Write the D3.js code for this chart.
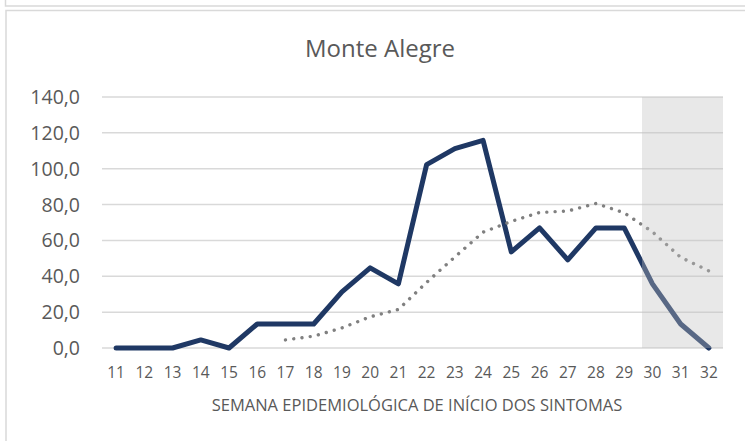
<!DOCTYPE html>
<html>
<head>
<meta charset="utf-8">
<script src="https://cdn.jsdelivr.net/npm/d3@7"></script>
<style>
  html, body { margin: 0; padding: 0; background: #fff; }
  svg { display: block; font-family: "Open Sans", "Noto Sans", sans-serif; }
</style>
</head>
<body>
<svg id="chart" width="745" height="441"></svg>
<script>
// ---- data ----
const weeks = [11,12,13,14,15,16,17,18,19,20,21,22,23,24,25,26,27,28,29,30,31,32];
const incidence = [0,0,0,4.5,0,13.4,13.4,13.4,31.3,44.7,35.8,102.3,111.2,115.8,53.6,67.0,49.2,67.0,67.0,35.8,13.4,0];
const movingAvg = [null,null,null,null,null,null,4.5,6.6,11.2,17.4,21.5,36.6,50.8,64.6,70.6,75.6,76.4,80.6,75.4,64.8,50.6,43.0];
const shadedWeeks = [30,31,32];
const yTicks = [0,20,40,60,80,100,120,140];
const title = "Monte Alegre";
const xTitle = "SEMANA EPIDEMIOLÓGICA DE INÍCIO DOS SINTOMAS";

const svg = d3.select("#chart");
const plot = {left: 102, right: 723, top: 97, bottom: 348};
const textColor = "#595959";

// frame boxes
svg.append("rect").attr("x", 5.5).attr("y", -20).attr("width", 800).attr("height", 26)
  .attr("fill", "none").attr("stroke", "#d9d9d9").attr("stroke-width", 1.5);
svg.append("rect").attr("x", 6).attr("y", 10.5).attr("width", 800).attr("height", 500)
  .attr("fill", "#fff").attr("stroke", "#d9d9d9").attr("stroke-width", 1.5);

const x = d3.scaleBand().domain(weeks).range([plot.left, plot.right]).paddingInner(0).paddingOuter(0);
const cx = d => x(d) + x.bandwidth() / 2;
const y = d3.scaleLinear().domain([0, 140]).range([plot.bottom, plot.top]);

// gridlines
svg.append("g").selectAll("line").data(yTicks).join("line")
  .attr("x1", plot.left).attr("x2", plot.right)
  .attr("y1", d => y(d)).attr("y2", d => y(d))
  .attr("stroke", "#d9d9d9").attr("stroke-width", 1.5);

// y labels
const fmt = d => d3.format(".1f")(d).replace(".", ",");
svg.append("g").selectAll("text").data(yTicks).join("text")
  .attr("x", 80).attr("y", d => y(d)).attr("dy", "0.36em")
  .attr("text-anchor", "end").attr("fill", textColor)
  .attr("font-size", 19.5).text(fmt);

// x labels
svg.append("g").selectAll("text").data(weeks).join("text")
  .attr("x", d => cx(d)).attr("y", 378)
  .attr("text-anchor", "middle").attr("fill", textColor)
  .attr("font-size", 15.5).text(d => d);

// axis title
svg.append("text").attr("x", 417).attr("y", 411).attr("text-anchor", "middle")
  .attr("fill", textColor).attr("font-size", 16.5).text(xTitle);

// chart title
svg.append("text").attr("x", 380).attr("y", 57).attr("text-anchor", "middle")
  .attr("fill", textColor).attr("font-size", 24).text(title);

// main line
const lineData = weeks.map((w, i) => ({w, v: incidence[i]}));
svg.append("path").datum(lineData)
  .attr("d", d3.line().x(d => cx(d.w)).y(d => y(d.v)))
  .attr("fill", "none").attr("stroke", "#1f3864").attr("stroke-width", 5)
  .attr("stroke-linecap", "round").attr("stroke-linejoin", "round");

// moving average (dotted), drawn above main line
const maData = weeks.map((w, i) => ({w, v: movingAvg[i]})).filter(d => d.v !== null);
svg.append("path").datum(maData)
  .attr("d", d3.line().x(d => cx(d.w)).y(d => y(d.v)))
  .attr("fill", "none").attr("stroke", "#808080").attr("stroke-width", 3.4)
  .attr("stroke-linecap", "round").attr("stroke-dasharray", "0.01 8.3");

// shaded overlay
const step = x.step();
const sx0 = x(shadedWeeks[0]) + step * 0.13;
const sx1 = x(shadedWeeks[shadedWeeks.length - 1]) + step;
svg.append("rect")
  .attr("x", sx0).attr("y", y(140))
  .attr("width", sx1 - sx0).attr("height", y(0) - y(140))
  .attr("fill", "#bfbfbf").attr("fill-opacity", 0.36);
</script>
</body>
</html>
